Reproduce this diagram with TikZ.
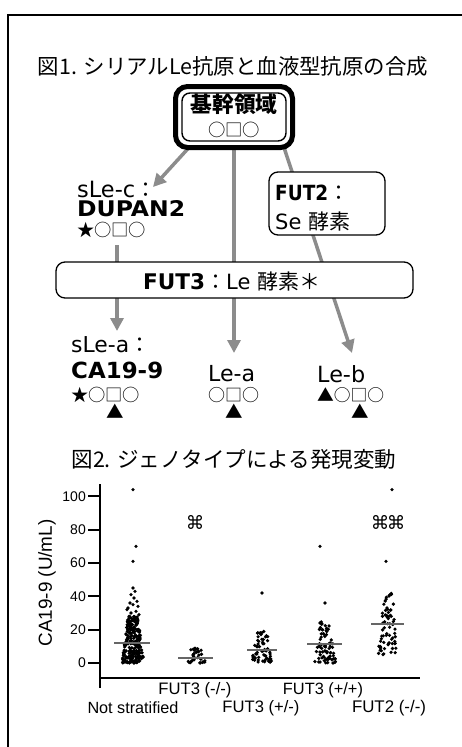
\documentclass[tikz,border=0pt]{standalone}
\usepackage{graphicx}
\usepackage{fontspec}
\setmainfont{DejaVu Sans}
\newfontfamily\jp{Noto Sans CJK JP}
\newfontfamily\hv{Liberation Sans}
\newfontfamily\dvs{DejaVu Sans}
\usetikzlibrary{arrows.meta,calc,backgrounds}
\definecolor{arr}{gray}{0.55}
\newcommand\fsz[1]{\fontsize{#1}{#1}\selectfont}
\newcommand\grp[6]{%
  \foreach \i in {1,...,#2}{%
    \pgfmathsetmacro\vv{#3+(#4-#3)*pow(rnd,#5)}%
    \pgfmathsetmacro\xx{#1+(2*rnd-1)*#6*(1-0.55*(\vv-#3)/(#4-#3))}%
    \fill (\xx,{663-1.667*\vv}) circle (1.8pt);
  }}
\newcommand\pt[2]{\fill (#1,{663-1.667*#2}) circle (1.8pt);}
\newcommand\bw[3]{\resizebox{#1}{#2}{\bfseries #3}}
\begin{document}
\begin{tikzpicture}[x=1pt,y=-1pt,
  lbl/.style={inner sep=0pt, anchor=west, font=\fsz{21}},
  symb/.style={inner sep=0pt, anchor=west, font=\jp\fsz{17.5}},
  arrowline/.style={draw=arr, line width=3.5pt, -{Triangle[length=13pt,width=13pt]}},
  box/.style={draw, line width=1.3pt, rounded corners=9pt, fill=white, inner sep=0pt, outer sep=0pt},
  axisln/.style={line width=2.5pt},
  tickln/.style={line width=2pt},
  ticklbl/.style={font=\hv\fsz{14}, anchor=east, inner sep=0pt},
  xlbl/.style={font=\hv\fsz{16.5}, inner sep=0pt},
  med/.style={draw=black!60, line width=1.2pt}
]
\useasboundingbox (0,0) rectangle (462,747);
% frame
\draw[line width=2pt] (470,15) -- (8,15) -- (8,760);
% title
\node[font=\jp\fsz{21}, inner sep=0pt] (title1) at (233,66) {\resizebox{390pt}{!}{図1. シリアルLe抗原と血液型抗原の合成}};
% base node
\node[draw, line width=5pt, rounded corners=12pt, minimum width=117pt, minimum height=61pt, inner sep=0pt, outer sep=0pt, fill=white] (base) at (234,117) {};
\draw[line width=1.4pt, rounded corners=8pt] ($(base.north west)+(6.5,6.5)$) rectangle ($(base.south east)+(-6.5,-6.5)$);
\node[font=\jp\bfseries\fsz{21}, inner sep=0pt] (basetxt) at (234,104) {\resizebox{87pt}{!}{基幹領域}};
\node[font=\jp\fsz{17.5}, inner sep=0pt] (basesym) at (234,130) {\resizebox{52pt}{!}{○□○}};
% sLe-c
\node[lbl] (slec) at (77,189) {\resizebox{58pt}{!}{sLe-c}{\jp：}};
\node[lbl] (dupan) at (77,209) {\bw{108pt}{16pt}{DUPAN2}};
\node[symb] (slecsym) at (77,230) {\resizebox{69pt}{!}{★○□○}};
% FUT2 box
\node[box, minimum width=116pt, minimum height=63pt] (fut2) at (327,203.5) {};
\node[lbl] (fut2a) at (275,193) {\bw{53pt}{15.5pt}{FUT2}{\jp：}};
\node[lbl] (fut2b) at (275,221) {Se {\jp 酵素}};
% FUT3 box
\node[box, minimum width=357pt, minimum height=36pt] (fut3) at (234.5,280) {};
\node[inner sep=0pt, font=\fsz{21}, anchor=west] (fut3t) at (143,281) {\bw{62pt}{16pt}{FUT3}{\jp：}Le {\jp 酵素＊}};
% bottom labels
\node[lbl] (slea) at (71,345) {\resizebox{58pt}{!}{sLe-a}{\jp：}};
\node[lbl] (ca) at (71,370) {\bw{92pt}{16.5pt}{CA19-9}};
\node[symb] (sleasym) at (71,395) {\resizebox{69pt}{!}{★○□○}};
\node[inner sep=0pt, font=\jp\fsz{17.5}] (sleatri) at (115,411) {▲};
\node[lbl] (lea) at (208,374) {\resizebox{47pt}{!}{Le-a}};
\node[symb] (leasym) at (208,395) {\resizebox{51pt}{!}{○□○}};
\node[inner sep=0pt, font=\jp\fsz{17.5}] (leatri) at (234,411) {▲};
\node[lbl] (leb) at (317,374) {\resizebox{48pt}{!}{Le-b}};
\node[symb] (lebsym) at (317,395) {\resizebox{67pt}{!}{▲○□○}};
\node[inner sep=0pt, font=\jp\fsz{17.5}] (lebtri) at (360,411) {▲};
% arrows
\coordinate (tipc) at (153,187);
\coordinate (tipa) at (234,353);
\coordinate (tipb) at (352,353);
\coordinate (s4) at (117,245);
\coordinate (tipsa) at (117,331);
\begin{pgfonlayer}{background}
\draw[arrowline] ([xshift=-45pt]base.south) -- (tipc);
\draw[arrowline] (base.south) -- (tipa);
\draw[arrowline] ([xshift=50pt]base.south) -- (tipb);
\draw[arrowline] (s4) -- (tipsa);
\end{pgfonlayer}
% title 2
\node[font=\jp\fsz{21}, inner sep=0pt] (title2) at (234,459) {\resizebox{325pt}{!}{図2. ジェノタイプによる発現変動}};
% plot axes
\coordinate (ytop) at (100,484);
\coordinate (ybot) at (100,688);
\coordinate (xl) at (99,678);
\coordinate (xr) at (420,678);
\draw[axisln] (ytop) -- (ybot);
\draw[axisln] (xl) -- (xr);
\foreach \v in {0,20,40,60,80,100}{
  \coordinate (tk\v) at (100,{663-1.667*\v});
  \coordinate (tke\v) at (88,{663-1.667*\v});
  \draw[tickln] (tk\v) -- (tke\v);
  \node[ticklbl] (tl\v) at (86,{663-1.667*\v}) {\v};
}
\node[font=\hv\fsz{18.5}, rotate=90, inner sep=0pt] (ylab) at (47,583) {\resizebox{127pt}{!}{CA19-9 (U/mL)}};
% x labels
\node[xlbl] (g2l) at (195,690) {\resizebox{73pt}{!}{FUT3 (-/-)}};
\node[xlbl] (g4l) at (323,690) {\resizebox{80pt}{!}{FUT3 (+/+)}};
\node[xlbl] (g1l) at (133,708) {\resizebox{91pt}{!}{Not stratified}};
\node[xlbl] (g3l) at (261,708) {\resizebox{77pt}{!}{FUT3 (+/-)}};
\node[xlbl] (g5l) at (389,708) {\resizebox{74pt}{!}{FUT2 (-/-)}};
% significance marks
\node[font=\dvs\fsz{18.5}, inner sep=0pt] (sig1) at (195,522) {⌘};
\node[font=\dvs\fsz{18.5}, inner sep=0pt] (sig2) at (388,522) {⌘\kern-2.5pt⌘};
% data
\pgfmathsetseed{4242}
\grp{133}{260}{0}{28}{1.25}{11}
\pt{131}{30}\pt{136}{31}\pt{128}{33}\pt{138}{34}\pt{133}{35}\pt{130}{36}
\pt{137}{37}\pt{134}{39}\pt{131}{41}\pt{135}{43}\pt{133}{45}\pt{139}{29}
\pt{127}{32}\pt{136}{70}\pt{133}{61}\pt{133}{104}
\grp{196}{32}{0}{9}{1.3}{10}
\grp{262}{62}{0}{19}{1.2}{11}
\pt{262}{42}
\grp{325}{72}{0}{25}{1.25}{11}
\pt{325}{36}\pt{320}{70}\pt{333}{0}
\grp{388}{70}{5}{42}{1.0}{10}
\pt{383}{5}\pt{386}{61}\pt{392}{104}
% medians
\coordinate (m1a) at (114,643); \coordinate (m1b) at (150,643);
\coordinate (m2a) at (178,658); \coordinate (m2b) at (213,658);
\coordinate (m3a) at (247,650); \coordinate (m3b) at (277,650);
\coordinate (m4a) at (307,644); \coordinate (m4b) at (342,644);
\coordinate (m5a) at (371,624); \coordinate (m5b) at (404,624);
\draw[med] (m1a) -- (m1b);
\draw[med] (m2a) -- (m2b);
\draw[med] (m3a) -- (m3b);
\draw[med] (m4a) -- (m4b);
\draw[med] (m5a) -- (m5b);
\end{tikzpicture}
\end{document}
